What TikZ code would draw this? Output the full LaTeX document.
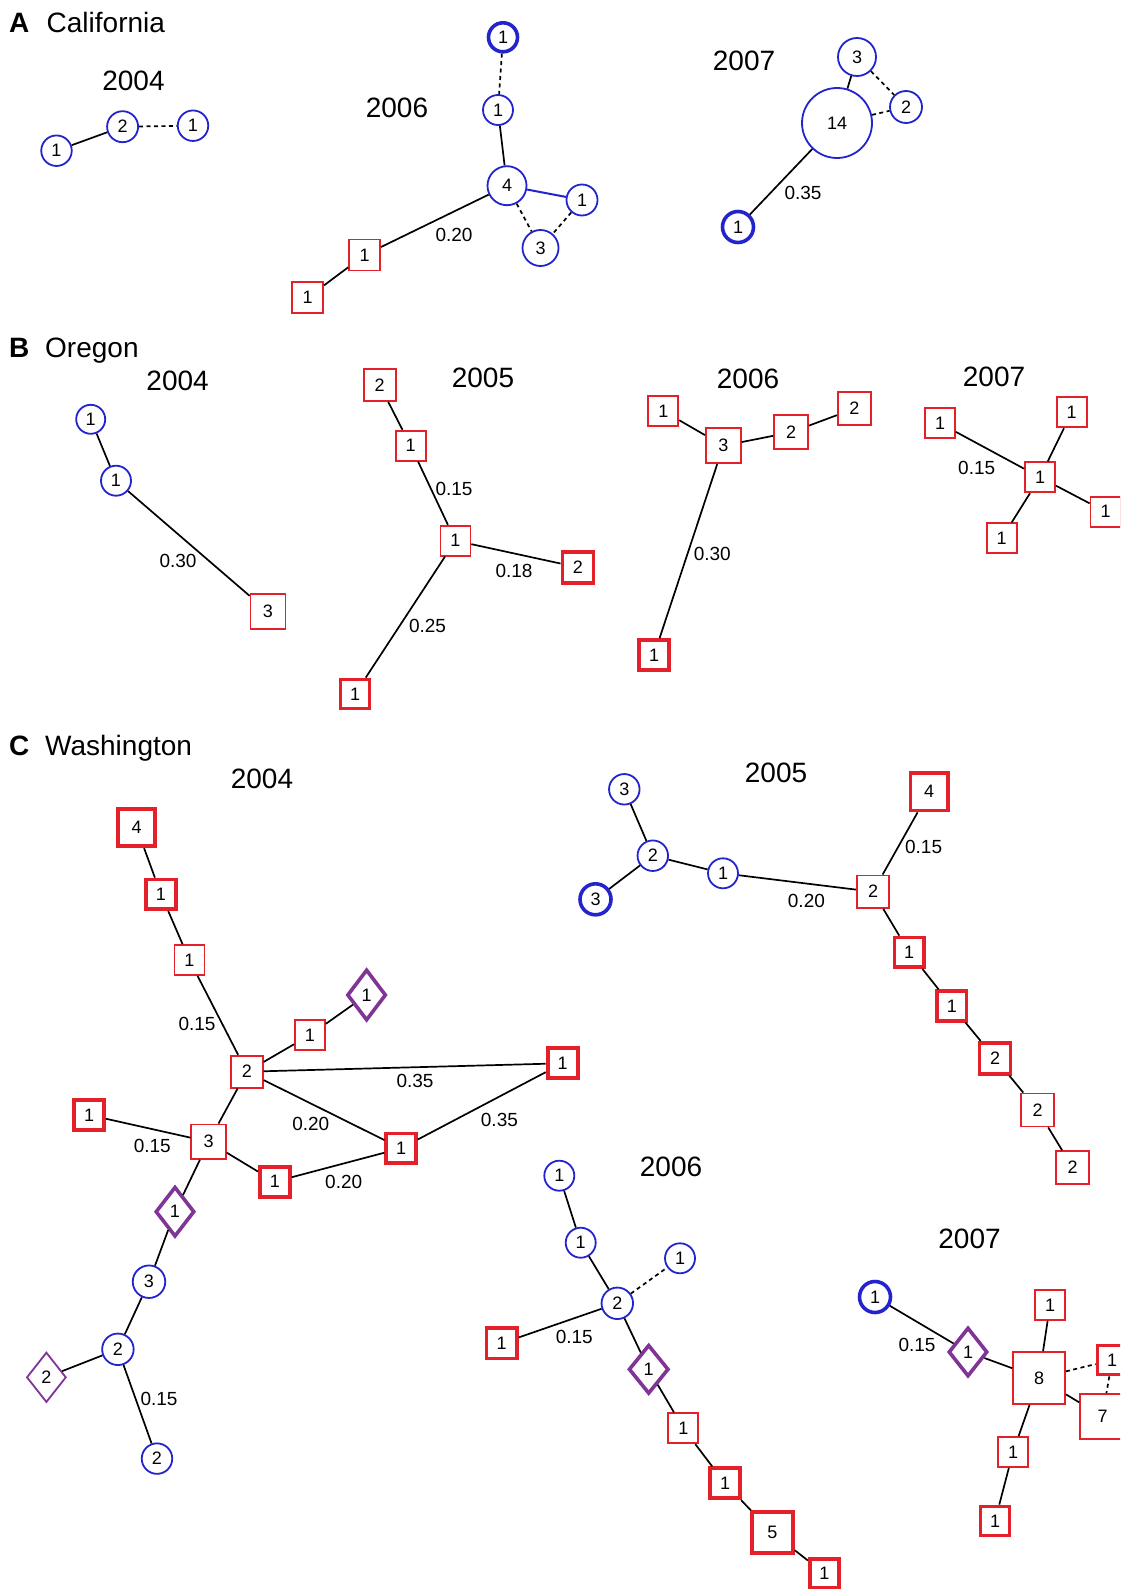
\documentclass[tikz,border=0pt]{standalone}
\usepackage{fontspec}
\setmainfont{Liberation Sans}
\usetikzlibrary{shapes.geometric}

\definecolor{cblue}{RGB}{36,36,205}
\definecolor{cred}{RGB}{228,32,40}
\definecolor{cpurple}{RGB}{128,52,150}

\newcommand\numfont{\fontsize{18}{18}\selectfont}
\newcommand\lblfont{\fontsize{19}{19}\selectfont}
\newcommand\ttlfont{\fontsize{28}{28}\selectfont}

\tikzset{
  cb/.style={circle, draw=cblue, line width=1.8pt, minimum size=#1, inner sep=0pt, font=\numfont, fill=white},
  cbt/.style={cb=#1, line width=3.6pt},
  sr/.style={rectangle, draw=cred, line width=1.8pt, minimum size=#1, inner sep=0pt, font=\numfont, fill=white},
  srt/.style={sr=#1, line width=3.8pt},
  dp/.style 2 args={diamond, draw=cpurple, line width=1.8pt, minimum width=#1, minimum height=#2, inner sep=0pt, font=\numfont, fill=white},
  dpt/.style 2 args={dp={#1}{#2}, line width=3.6pt},
  ln/.style={draw=black, line width=1.7pt},
  dl/.style={ln, dash pattern=on 4pt off 3.5pt},
  bl/.style={draw=cblue, line width=2pt},
  el/.style={font=\lblfont, inner sep=0pt},
  yr/.style={font=\ttlfont, inner sep=0pt, anchor=base},
  pl/.style={font=\ttlfont\bfseries, inner sep=0pt, anchor=base west},
  pn/.style={font=\ttlfont, inner sep=0pt, anchor=base west},
}

\begin{document}
\begin{tikzpicture}[x=1pt, y=-1pt]
\useasboundingbox (0,0) rectangle (1120,1589);
\clip (0,0) rectangle (1120,1589);
\fill[white] (0,0) rectangle (1120,1589);

% ---------- A: California ----------
\node[pl] (tA) at (9,33) {A};
\node[pn] (nA) at (46.5,33) {California};

\node[yr] (ya04) at (133.5,91) {2004};
\node[cb=30.5pt] (a1) at (56.5,150.7) {1};
\node[cb=31pt]   (a2) at (122.6,126.7) {2};
\node[cb=30.5pt] (a3) at (193,125.7) {1};
\draw[ln] (a1) -- (a2);
\draw[dl] (a2) -- (a3);

\node[yr] (ya06) at (397,118) {2006};
\node[cbt=29pt] (b1) at (503,37.3) {1};
\node[cb=30pt]  (b2) at (498,110) {1};
\node[cb=39pt]  (b4) at (507,185.7) {4};
\node[cb=31pt]  (b5) at (582,200) {1};
\node[cb=36pt]  (b3) at (540.5,248) {3};
\node[sr=31pt]  (b6) at (364.6,255) {1};
\node[sr=31pt]  (b7) at (307.6,297.7) {1};
\draw[dl] (b1) -- (b2);
\draw[ln] (b2) -- (b4);
\draw[bl] (b4) -- (b5);
\draw[dl] (b4) -- (b3);
\draw[dl] (b5) -- (b3);
\draw[ln] (b4) -- (b6);
\draw[ln] (b6) -- (b7);
\node[el] (lb46) at (454,235) {0.20};

\node[yr] (ya07) at (744,70.7) {2007};
\node[cb=70pt]   (c14) at (837,123) {14};
\node[cb=38pt]   (c3)  at (857,57) {3};
\node[cb=32pt]   (c2)  at (906,107) {2};
\node[cbt=31pt]  (ct)  at (738,227) {1};
\draw[ln] (c14) -- (c3);
\draw[dl] (c3) -- (c2);
\draw[dl] (c14) -- (c2);
\draw[ln] (c14) -- (ct);
\node[el] (lc14) at (803,193) {0.35};

% ---------- B: Oregon ----------
\node[pl] (tB) at (9,357) {B};
\node[pn] (nB) at (45,357) {Oregon};

\node[yr] (yb04) at (177.6,390) {2004};
\node[cb=29pt] (d1) at (90.7,419.3) {1};
\node[cb=30pt] (d2) at (116,480.7) {1};
\node[sr=35pt] (d3) at (268,611.7) {3};
\draw[ln] (d1) -- (d2);
\draw[ln] (d2) -- (d3);
\node[el] (ld23) at (178,560.7) {0.30};

\node[yr] (yb05) at (483,387.7) {2005};
\node[sr=32pt]  (e2)  at (379.6,385) {2};
\node[sr=30pt]  (e1a) at (410.6,445.7) {1};
\node[sr=30pt]  (e1c) at (455.4,540.7) {1};
\node[srt=31pt] (e2t) at (577.9,567.3) {2};
\node[srt=29pt] (e1b) at (355,694) {1};
\draw[ln] (e2) -- (e1a);
\draw[ln] (e1a) -- (e1c);
\draw[ln] (e1c) -- (e2t);
\draw[ln] (e1c) -- (e1b);
\node[el] (le1) at (454,489) {0.15};
\node[el] (le2) at (514,570.7) {0.18};
\node[el] (le3) at (427.5,626) {0.25};

\node[yr] (yb06) at (748,388) {2006};
\node[sr=30pt]  (f1)  at (663.3,411) {1};
\node[sr=35pt]  (f3)  at (723.3,445.7) {3};
\node[sr=34pt]  (f2a) at (791,432.3) {2};
\node[sr=33pt]  (f2b) at (854.3,408.7) {2};
\node[srt=30pt] (f1t) at (654,655) {1};
\draw[ln] (f1) -- (f3);
\draw[ln] (f3) -- (f2a);
\draw[ln] (f2a) -- (f2b);
\draw[ln] (f3) -- (f1t);
\node[el] (lf) at (712.3,554) {0.30};

\node[yr] (yb07) at (994,386.7) {2007};
\node[sr=30pt] (g1a) at (940,423.3) {1};
\node[sr=30pt] (g1b) at (1071.7,412.3) {1};
\node[sr=30pt] (g1c) at (1040,477.3) {1};
\node[sr=30pt] (g1d) at (1105.5,511.7) {1};
\node[sr=30pt] (g1e) at (1001.7,538.3) {1};
\draw[ln] (g1a) -- (g1c);
\draw[ln] (g1b) -- (g1c);
\draw[ln] (g1c) -- (g1d);
\draw[ln] (g1c) -- (g1e);
\node[el] (lg) at (976.7,468.3) {0.15};

% ---------- C: Washington ----------
\node[pl] (tC) at (9,755) {C};
\node[pn] (nC) at (45,755) {Washington};

% 2004
\node[yr] (yc04) at (262,788.3) {2004};
\node[srt=37pt]  (w4)   at (136.6,827.7) {4};
\node[srt=29.5pt](w1a)  at (161,894.3) {1};
\node[sr=30pt]   (w1b)  at (189.4,960) {1};
\node[dpt={39pt}{51pt}] (wd1) at (366.6,995) {1};
\node[sr=30pt]   (w1c)  at (310,1035) {1};
\node[sr=32pt]   (w2)   at (246.8,1071.7) {2};
\node[srt=30pt]  (w1r)  at (562.6,1063.3) {1};
\node[srt=30pt]  (w1l)  at (89.2,1115) {1};
\node[sr=34.5pt] (w3)   at (208.6,1141.7) {3};
\node[srt=29.5pt](w1m)  at (401,1148.3) {1};
\node[srt=30pt]  (w1n)  at (274.8,1181.7) {1};
\node[dpt={39pt}{50pt}] (wd1b) at (175,1211.7) {1};
\node[cb=32.5pt] (wc3)  at (149,1281.7) {3};
\node[cb=31.5pt] (wc2)  at (117.9,1349.3) {2};
\node[dp={39.5pt}{50pt}] (wd2) at (46.4,1377.3) {2};
\node[cb=30.5pt] (wc2b) at (157,1458.6) {2};
\draw[ln] (w4) -- (w1a);
\draw[ln] (w1a) -- (w1b);
\draw[ln] (w1b) -- (w2);
\draw[ln] (w2) -- (w1c);
\draw[ln] (w1c) -- (wd1);
\draw[ln] (w2) -- (w1r);
\draw[ln] (w2) -- (w1m);
\draw[ln] (w1m) -- (w1r);
\draw[ln] (w2) -- (w3);
\draw[ln] (w1l) -- (w3);
\draw[ln] (w3) -- (w1n);
\draw[ln] (w1n) -- (w1m);
\draw[ln] (w3) -- (wd1b);
\draw[ln] (wd1b) -- (wc3);
\draw[ln] (wc3) -- (wc2);
\draw[ln] (wc2) -- (wd2);
\draw[ln] (wc2) -- (wc2b);
\node[el] (lw1) at (197,1024) {0.15};
\node[el] (lw2) at (415,1080.7) {0.35};
\node[el] (lw3) at (310.8,1124) {0.20};
\node[el] (lw4) at (499.4,1120) {0.35};
\node[el] (lw5) at (152.3,1146) {0.15};
\node[el] (lw6) at (343.7,1181.7) {0.20};
\node[el] (lw7) at (159,1399.3) {0.15};

% 2005
\node[yr] (yc05) at (776,782.3) {2005};
\node[cb=30.5pt] (x3a) at (624.3,789.3) {3};
\node[cb=30.5pt] (x2)  at (652.8,855.7) {2};
\node[cbt=31pt]  (x3t) at (595.5,899.3) {3};
\node[cb=30pt]   (x1)  at (723,873.3) {1};
\node[sr=32.5pt] (x2s) at (873,891.7) {2};
\node[srt=37.5pt](x4)  at (929.2,791.7) {4};
\node[srt=29.5pt](x1a) at (909.2,952.3) {1};
\node[srt=29.5pt](x1b) at (951.8,1006) {1};
\node[srt=31pt]  (x2a) at (995,1058.3) {2};
\node[sr=33pt]   (x2b) at (1037.6,1110) {2};
\node[sr=33pt]   (x2c) at (1072.7,1167.7) {2};
\draw[ln] (x3a) -- (x2);
\draw[ln] (x2) -- (x3t);
\draw[ln] (x2) -- (x1);
\draw[ln] (x1) -- (x2s);
\draw[ln] (x2s) -- (x4);
\draw[ln] (x2s) -- (x1a);
\draw[ln] (x1a) -- (x1b);
\draw[ln] (x1b) -- (x2a);
\draw[ln] (x2a) -- (x2b);
\draw[ln] (x2b) -- (x2c);
\node[el] (lx1) at (806.4,900.7) {0.20};
\node[el] (lx2) at (923.6,846.7) {0.15};

% 2006
\node[yr] (yc06) at (671,1176.7) {2006};
\node[cb=30pt]   (y1a) at (559.3,1175.7) {1};
\node[cb=30pt]   (y1b) at (580.7,1242.7) {1};
\node[cb=30pt]   (y1r) at (680,1258.3) {1};
\node[cb=31.5pt] (y2)  at (617.3,1303.3) {2};
\node[srt=30.5pt](y1l) at (501.7,1343.3) {1};
\node[dpt={40pt}{49pt}] (yd) at (648.7,1369.3) {1};
\node[sr=30pt]   (y1s) at (683.3,1428.3) {1};
\node[srt=30pt]  (y1t) at (725,1483.3) {1};
\node[srt=41pt]  (y5)  at (772.3,1532.7) {5};
\node[srt=29pt]  (y1u) at (824.3,1573.3) {1};
\draw[ln] (y1a) -- (y1b);
\draw[ln] (y1b) -- (y2);
\draw[dl] (y2) -- (y1r);
\draw[ln] (y2) -- (y1l);
\draw[ln] (y2) -- (yd);
\draw[ln] (yd) -- (y1s);
\draw[ln] (y1s) -- (y1t);
\draw[ln] (y1t) -- (y5);
\draw[ln] (y5) -- (y1u);
\node[el] (ly) at (574.3,1337.3) {0.15};

% 2007
\node[yr] (yc07) at (969.5,1248) {2007};
\node[cbt=31pt]  (z1)  at (875,1297) {1};
\node[dpt={39pt}{49pt}] (zd) at (968,1352) {1};
\node[sr=52pt]   (z8)  at (1039,1378) {8};
\node[sr=30pt]   (z1t) at (1050,1305) {1};
\node[srt=29pt]  (z1r) at (1112,1360) {1};
\node[sr=45pt]   (z7)  at (1102.5,1416.5) {7};
\node[sr=30pt]   (z1a) at (1013,1452) {1};
\node[srt=29pt]  (z1b) at (995,1521) {1};
\draw[ln] (z1) -- (zd);
\draw[ln] (zd) -- (z8);
\draw[ln] (z8) -- (z1t);
\draw[dl] (z8) -- (z1r);
\draw[dl] (z1r) -- (z7);
\draw[ln] (z8) -- (z7);
\draw[ln] (z8) -- (z1a);
\draw[ln] (z1a) -- (z1b);
\node[el] (lz) at (917,1345) {0.15};
\end{tikzpicture}
\end{document}
